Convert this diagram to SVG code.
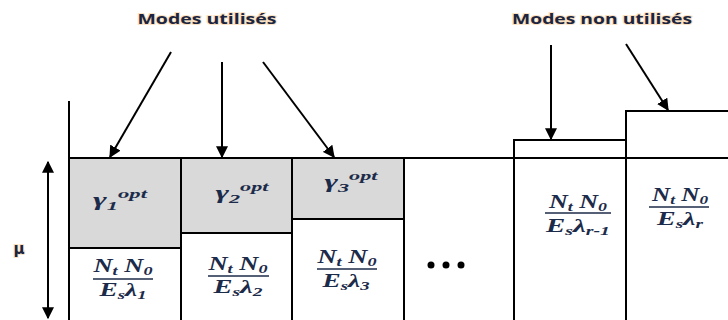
<svg xmlns="http://www.w3.org/2000/svg" width="728" height="320" viewBox="0 0 728 320">
<style>
.ln{stroke:#000;stroke-width:2;fill:none}
.gray{fill:#d9d9d9;stroke:#000;stroke-width:2}
.hdr{font-family:"Open Sans","DejaVu Sans",sans-serif;font-weight:bold;font-size:15px;fill:#1b2540;stroke:#fbe2c2;stroke-width:2;paint-order:stroke;text-anchor:middle}
.m{font-family:"Liberation Serif",serif;font-style:italic;font-weight:bold;font-size:19px;fill:#1c2b4a;text-anchor:middle}
.s{font-size:13px}
.fl{stroke:#1c2b4a;stroke-width:1.3}
</style>
<defs>
<marker id="ah2" viewBox="0 0 10 10" refX="9" refY="5" markerWidth="12" markerHeight="12" orient="auto-start-reverse" markerUnits="userSpaceOnUse">
<path d="M0,0 L10,5 L0,10 z" fill="#000"/>
</marker>
</defs>
<g id="labels">
<text class="hdr" x="207" y="24" textLength="139" lengthAdjust="spacingAndGlyphs">Modes utilisés</text>
<text class="hdr" x="602" y="24" textLength="180" lengthAdjust="spacingAndGlyphs">Modes non utilisés</text>
<text x="19" y="254" style="font-family:'DejaVu Sans',sans-serif;font-weight:bold;font-size:15px;fill:#1b2540;stroke:#fbe2c2;stroke-width:2;paint-order:stroke;text-anchor:middle">μ</text>
</g>
<g id="mode1">
<rect class="gray" x="69" y="158" width="112" height="90"/>
<text class="m" x="120" y="206" textLength="54" lengthAdjust="spacingAndGlyphs">γ<tspan class="s" dy="4">1</tspan><tspan class="s" dy="-12">opt</tspan></text>
<text class="m" x="123" y="272" textLength="59" lengthAdjust="spacingAndGlyphs">N<tspan class="s" dy="3">t</tspan><tspan dy="-3"> N</tspan><tspan class="s" dy="3">0</tspan></text>
<line class="fl" x1="93" y1="279" x2="153" y2="279"/>
<text class="m" x="123" y="296" textLength="47" lengthAdjust="spacingAndGlyphs">E<tspan class="s" dy="3">s</tspan><tspan dy="-3">λ</tspan><tspan class="s" dy="3">1</tspan></text>
</g>
<g id="mode2">
<rect class="gray" x="181" y="158" width="111" height="75"/>
<text class="m" x="242" y="199" textLength="53" lengthAdjust="spacingAndGlyphs">γ<tspan class="s" dy="4">2</tspan><tspan class="s" dy="-12">opt</tspan></text>
<text class="m" x="238" y="270" textLength="59" lengthAdjust="spacingAndGlyphs">N<tspan class="s" dy="3">t</tspan><tspan dy="-3"> N</tspan><tspan class="s" dy="3">0</tspan></text>
<line class="fl" x1="208" y1="276" x2="269" y2="276"/>
<text class="m" x="238" y="293" textLength="49" lengthAdjust="spacingAndGlyphs">E<tspan class="s" dy="3">s</tspan><tspan dy="-3">λ</tspan><tspan class="s" dy="3">2</tspan></text>
</g>
<g id="mode3">
<rect class="gray" x="292" y="158" width="112" height="61"/>
<text class="m" x="351" y="188" textLength="53" lengthAdjust="spacingAndGlyphs">γ<tspan class="s" dy="4">3</tspan><tspan class="s" dy="-12">opt</tspan></text>
<text class="m" x="347" y="263" textLength="59" lengthAdjust="spacingAndGlyphs">N<tspan class="s" dy="3">t</tspan><tspan dy="-3"> N</tspan><tspan class="s" dy="3">0</tspan></text>
<line class="fl" x1="317" y1="269" x2="377" y2="269"/>
<text class="m" x="346" y="287" textLength="47" lengthAdjust="spacingAndGlyphs">E<tspan class="s" dy="3">s</tspan><tspan dy="-3">λ</tspan><tspan class="s" dy="3">3</tspan></text>
</g>
<g id="dots">
<circle cx="431" cy="265" r="3.5" fill="#000"/>
<circle cx="446" cy="265" r="3.5" fill="#000"/>
<circle cx="461" cy="265" r="3.5" fill="#000"/>
</g>
<g id="mode_r1">
<path class="ln" d="M514,320 V140 H626"/>
<text class="m" x="578" y="208" textLength="58" lengthAdjust="spacingAndGlyphs">N<tspan class="s" dy="3">t</tspan><tspan dy="-3"> N</tspan><tspan class="s" dy="3">0</tspan></text>
<line class="fl" x1="545" y1="213" x2="611" y2="213"/>
<text class="m" x="578" y="232" textLength="64" lengthAdjust="spacingAndGlyphs">E<tspan class="s" dy="3">s</tspan><tspan dy="-3">λ</tspan><tspan class="s" dy="3">r-1</tspan></text>
</g>
<g id="mode_r">
<path class="ln" d="M626,320 V111 H728"/>
<text class="m" x="680" y="201" textLength="56" lengthAdjust="spacingAndGlyphs">N<tspan class="s" dy="3">t</tspan><tspan dy="-3"> N</tspan><tspan class="s" dy="3">0</tspan></text>
<line class="fl" x1="649" y1="207" x2="709" y2="207"/>
<text class="m" x="680" y="225" textLength="46" lengthAdjust="spacingAndGlyphs">E<tspan class="s" dy="3">s</tspan><tspan dy="-3">λ</tspan><tspan class="s" dy="3">r</tspan></text>
</g>
<g id="frame">
<line class="ln" x1="69" y1="101" x2="69" y2="320"/>
<line class="ln" x1="69" y1="158" x2="728" y2="158"/>
<line class="ln" x1="181" y1="158" x2="181" y2="320"/>
<line class="ln" x1="292" y1="158" x2="292" y2="320"/>
<line class="ln" x1="404" y1="158" x2="404" y2="320"/>
</g>
<g id="connectors">
<line class="ln" x1="171" y1="52" x2="110" y2="157" marker-end="url(#ah2)"/>
<line class="ln" x1="222" y1="62" x2="222" y2="157" marker-end="url(#ah2)"/>
<line class="ln" x1="263" y1="62" x2="334" y2="157" marker-end="url(#ah2)"/>
<line class="ln" x1="551" y1="45" x2="551" y2="139" marker-end="url(#ah2)"/>
<line class="ln" x1="626" y1="44" x2="668" y2="110" marker-end="url(#ah2)"/>
<line class="ln" x1="48" y1="162" x2="48" y2="318" marker-start="url(#ah2)" marker-end="url(#ah2)"/>
</g>
</svg>
